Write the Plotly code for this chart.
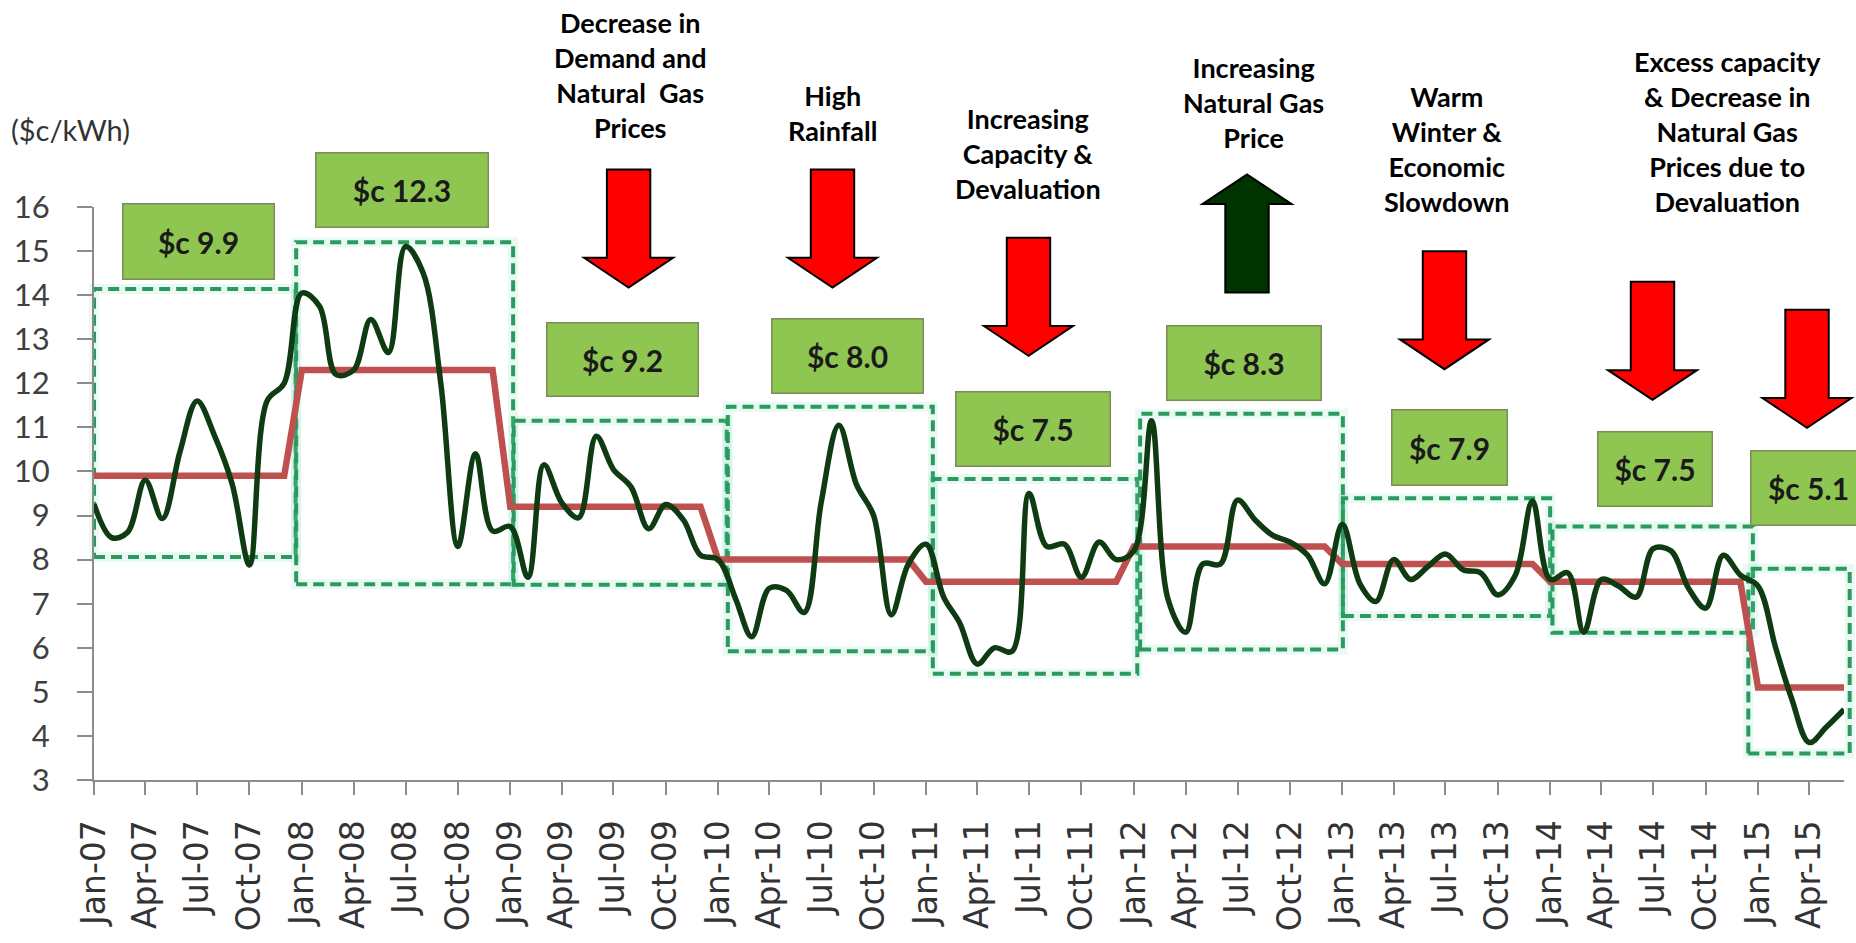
import pandas as pd
import plotly.graph_objects as go

# ---------------------------------------------------------------
# Monthly average electricity price, Jan-2007 .. Jun-2015 ($c/kWh)
# ---------------------------------------------------------------
month_start = "2007-01-01"
month_end = "2015-06-01"

price_2007 = [9.26, 8.50, 8.62, 9.80, 8.93, 10.45, 11.60, 10.80, 9.70, 7.88, 11.60, 12.00]
price_2008 = [14.05, 13.75, 12.20, 12.30, 13.45, 12.70, 15.10, 14.50, 12.00, 8.30, 10.40, 8.65]
price_2009 = [8.75, 7.60, 10.15, 9.30, 8.95, 10.80, 10.05, 9.65, 8.70, 9.25, 8.90, 8.10]
price_2010 = [8.00, 7.10, 6.25, 7.35, 7.30, 6.80, 9.30, 11.05, 9.70, 9.00, 6.75, 7.90]
price_2011 = [8.35, 7.15, 6.57, 5.63, 6.00, 5.92, 9.50, 8.30, 8.35, 7.60, 8.40, 8.00]
price_2012 = [8.20, 11.15, 7.10, 6.35, 7.90, 7.90, 9.35, 8.90, 8.55, 8.40, 8.10, 7.45]
price_2013 = [8.80, 7.45, 7.05, 8.00, 7.55, 7.85, 8.13, 7.77, 7.70, 7.20, 7.65, 9.33]
price_2014 = [7.55, 7.70, 6.35, 7.55, 7.40, 7.15, 8.25, 8.20, 7.35, 6.90, 8.10, 7.65]
price_2015 = [7.40, 6.00, 4.85, 3.85, 4.20, 4.60]

# Yearly average price
period_years = [2007, 2008, 2009, 2010, 2011, 2012, 2013, 2014, 2015]
period_avg = [9.9, 12.3, 9.2, 8.0, 7.5, 8.3, 7.9, 7.5, 5.1]

# Dashed range boxes around each year
box_start = ["2007-01-01", "2007-12-22", "2009-01-07", "2010-01-18", "2011-01-13",
             "2012-01-12", "2013-01-02", "2014-01-05", "2014-12-15"]
box_end = ["2007-12-21", "2009-01-06", "2010-01-16", "2011-01-13", "2012-01-07",
           "2013-01-02", "2014-01-01", "2014-12-23", "2015-06-11"]
box_low = [8.06, 7.44, 7.43, 5.92, 5.41, 5.96, 6.72, 6.34, 3.60]
box_high = [14.14, 15.20, 11.15, 11.47, 9.83, 11.31, 9.39, 8.75, 7.79]

# Drivers of each price move
cause_text = [
    "Decrease in<br>Demand and<br>Natural  Gas<br>Prices",
    "High<br>Rainfall",
    "Increasing<br>Capacity &<br>Devaluation",
    "Increasing<br>Natural Gas<br>Price",
    "Warm<br>Winter &<br>Economic<br>Slowdown",
    "Excess capacity<br>& Decrease in<br>Natural Gas<br>Prices due to<br>Devaluation",
]
cause_direction = ["down", "down", "down", "up", "down", "down", "down"]

y_min, y_max = 3, 16

monthly_price = (price_2007 + price_2008 + price_2009 + price_2010 + price_2011
                 + price_2012 + price_2013 + price_2014 + price_2015)
months = pd.date_range(month_start, month_end, freq="MS")
avg_by_year = dict(zip(period_years, period_avg))
monthly_avg = [avg_by_year[d.year] for d in months]

# ---------------------------------------------------------------
# Page geometry (pixels) and helpers to place decorations
# ---------------------------------------------------------------
W, H = 1856, 943
L, R, T, B = 94, 1844, 207, 804
X0, X1 = pd.Timestamp(month_start), pd.Timestamp(month_end)


def fx(xpix):
    return (xpix - L) / (R - L)


def fy(ypix):
    return (B - ypix) / (B - T)


def fdate(d):
    return (pd.Timestamp(d) - X0) / (X1 - X0)


fig = go.Figure()

fig.add_trace(go.Scatter(
    x=months, y=monthly_avg, mode="lines",
    line=dict(color="#BE5050", width=6.5),
    hoverinfo="skip", name="Yearly average"))

fig.add_trace(go.Scatter(
    x=months, y=monthly_price, mode="lines",
    line=dict(color="#0E3B12", width=5.5, shape="spline", smoothing=1.0),
    name="Monthly price"))

shapes = []
for s, e, lo, hi in zip(box_start, box_end, box_low, box_high):
    # soft halo under each dashed box
    shapes.append(dict(
        type="rect", xref="paper", yref="y", layer="below",
        x0=fdate(s), x1=fdate(e), y0=lo, y1=hi,
        line=dict(color="rgba(120,215,180,0.16)", width=10),
        fillcolor="rgba(0,0,0,0)"))
    shapes.append(dict(
        type="rect", xref="paper", yref="y", layer="below",
        x0=fdate(s), x1=fdate(e), y0=lo, y1=hi,
        line=dict(color="#2A9A5E", width=4, dash="11px,6px"),
        fillcolor="rgba(0,0,0,0)"))

# Block arrows: centre x, tail end y (pixels)
arrow_pos = [(628.6, 168), (832.5, 168), (1028.5, 239), (1247, 296),
             (1444.5, 253), (1652.5, 285), (1807, 314)]
shaft_half, head_half, shaft_len, head_len = 21.7, 44.5, 92, 31
for (cx, tail), direction in zip(arrow_pos, cause_direction):
    sgn = 1 if direction == "down" else -1
    hb = tail + sgn * shaft_len
    tip = hb + sgn * head_len
    pts = [(cx - shaft_half, tail), (cx + shaft_half, tail), (cx + shaft_half, hb),
           (cx + head_half, hb), (cx, tip), (cx - head_half, hb), (cx - shaft_half, hb)]
    path = "M " + " L ".join(f"{fx(a):.5f},{fy(b):.5f}" for a, b in pts) + " Z"
    shapes.append(dict(
        type="path", xref="paper", yref="paper", path=path, layer="above",
        fillcolor="#FF0000" if direction == "down" else "#003300",
        line=dict(color="#000000", width=2)))

annotations = []

# Cause captions: centre x, baseline of last line (pixels)
cause_pos = [(630, 137), (832, 140), (1027.7, 200), (1253, 147.5), (1446.7, 214), (1727.6, 214)]
for txt, (cx, base) in zip(cause_text, cause_pos):
    annotations.append(dict(
        text=f"<b>{txt}</b>", xref="paper", yref="paper",
        x=fx(cx), y=fy(base + 6.7), xanchor="center", yanchor="bottom",
        showarrow=False, align="center",
        font=dict(family="Lato", size=27, color="#000000")))

# Yearly average value tags: centre x, centre y, width, height (pixels)
tag_geom = [(198.5, 242.5, 150, 74), (401.7, 189.7, 171, 73), (622.5, 365.8, 150, 72),
            (847.7, 362.7, 150, 73), (1032.7, 438.3, 153, 73), (1243.5, 369.3, 153, 73),
            (1449, 458, 114, 74), (1654.7, 480, 113, 73), (1808, 500, 114, 73)]
for val, (cx, cy, w, h) in zip(period_avg, tag_geom):
    annotations.append(dict(
        text=f"<b>$c {val:.1f}</b>", xref="paper", yref="paper",
        x=fx(cx), y=fy(cy), xanchor="center", yanchor="middle",
        width=w, height=h, borderpad=0, showarrow=False,
        bgcolor="#8FC652", bordercolor="#7A8C5A", borderwidth=1.5,
        font=dict(family="Lato", size=30, color="#1A1A1A")))

annotations.append(dict(
    text="($c/kWh)", xref="paper", yref="paper", x=fx(9), y=fy(126),
    xanchor="left", yanchor="middle", showarrow=False,
    font=dict(family="Lato", size=29, color="#333333")))

fig.update_layout(
    width=W, height=H,
    margin=dict(l=L, r=W - R, t=T, b=H - B, pad=0),
    paper_bgcolor="white", plot_bgcolor="white",
    showlegend=False,
    shapes=shapes, annotations=annotations,
    xaxis=dict(
        type="date", range=[month_start, month_end],
        tick0=month_start, dtick="M3", tickformat="%b-%y", tickangle=-90,
        showgrid=False, zeroline=False,
        showline=True, linecolor="#8C8C8C", linewidth=2,
        ticks="outside", ticklen=13, tickwidth=1.5, tickcolor="#8C8C8C",
        ticklabelstandoff=12,
        tickfont=dict(family="DejaVu Sans", size=33, color="#333333")),
    yaxis=dict(
        range=[y_min, y_max], dtick=1, tick0=0,
        showgrid=False, zeroline=False,
        showline=True, linecolor="#8C8C8C", linewidth=2,
        ticks="outside", ticklen=15, tickwidth=1.5, tickcolor="#8C8C8C",
        ticklabelstandoff=21,
        tickfont=dict(family="Lato", size=31, color="#404040")),
)

fig.write_html("out.html")
